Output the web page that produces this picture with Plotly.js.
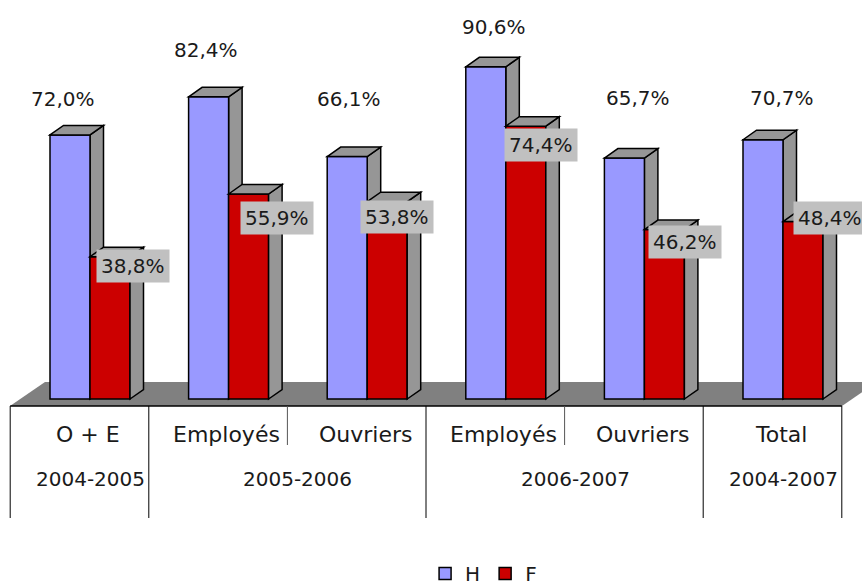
<!DOCTYPE html>
<html>
<head>
<meta charset="utf-8">
<script src="https://cdn.plot.ly/plotly-3.0.1.min.js"></script>
<style>html,body{margin:0;padding:0;background:#fff}#chart{width:862px;height:587px}</style>
</head>
<body>
<div id="chart"></div>
<script>
// ---- data ----
const categories = ["O + E", "Employés", "Ouvriers", "Employés", "Ouvriers", "Total"];
const yearLabels = ["2004-2005", "2005-2006", "2006-2007", "2004-2007"];
const yearGroups = [[0], [1, 2], [3, 4], [5]];
const seriesNames = ["H", "F"];
const valuesH = [72.0, 82.4, 66.1, 90.6, 65.7, 70.7];
const valuesF = [38.8, 55.9, 53.8, 74.4, 46.2, 48.4];

// ---- layout geometry (pixels) ----
const W = 862, H = 587;
const x0px = 90, stepPx = 138.6;      // category centre of first group, spacing
const y0px = 399, pxPerUnit = 3.667;  // baseline pixel, pixels per percent
const xmin = -x0px / stepPx, xmax = (W - x0px) / stepPx;
const ymin = -(H - y0px) / pxPerUnit, ymax = y0px / pxPerUnit;
const toX = px => xmin + px / stepPx;
const toY = py => (y0px - py) / pxPerUnit;
const barW = 40 / stepPx;
const dX = 13.5 / stepPx, dY = 9.5 / pxPerUnit;   // 3D depth of bars
const idx = categories.map((_, i) => i);

const FONT = "DejaVu Sans";
const TXT = "#1a1a1a";
const colH = "#9999FF", colF = "#CC0000", sideCol = "#969696", floorCol = "#808080";

// label nudges (pixels)
const hLabelDx = [-7, -3, 2, 8, 14, 19];
const hLabelLift = [36, 47, 58, 40, 60, 42];
const fLabelDx = [23, 28, 10, 15, 21, 27];
const fLabelDy = [9, 24, 15, 19, 12, -4];

const fmt = v => v.toFixed(1).replace('.', ',') + '%';

const traces = [
  { type: 'bar', name: seriesNames[0], x: idx, y: valuesH, width: barW, offset: -barW,
    marker: { color: colH, line: { color: '#000', width: 1.5 } }, hoverinfo: 'skip' },
  { type: 'bar', name: seriesNames[1], x: idx, y: valuesF, width: barW, offset: 0,
    marker: { color: colF, line: { color: '#000', width: 1.5 } }, hoverinfo: 'skip' }
];

const poly = pts => 'M' + pts.map(p => p[0] + ',' + p[1]).join('L') + 'Z';
const shapes = [];
// floor
const fdx = 35, fdy = 24;
shapes.push({ type: 'path', layer: 'below', xref: 'x', yref: 'y',
  path: poly([[toX(10), toY(406)], [toX(842), toY(406)], [toX(842 + fdx), toY(406 - fdy)], [toX(10 + fdx), toY(406 - fdy)]]),
  fillcolor: floorCol, line: { width: 0 } });

function box3d(left, val, layerSide, layerTop) {
  const right = left + barW;
  shapes.push({ type: 'path', layer: layerSide, xref: 'x', yref: 'y',
    path: poly([[right, 0], [right + dX, dY], [right + dX, val + dY], [right, val]]),
    fillcolor: sideCol, line: { color: '#000', width: 1.5 } });
  shapes.push({ type: 'path', layer: layerTop, xref: 'x', yref: 'y',
    path: poly([[left, val], [left + dX, val + dY], [right + dX, val + dY], [right, val]]),
    fillcolor: sideCol, line: { color: '#000', width: 1.5 } });
}
idx.forEach(i => box3d(i - barW, valuesH[i], 'below', 'above'));
idx.forEach(i => box3d(i, valuesF[i], 'above', 'above'));

// table lines
const tableShift = -10.5 / stepPx;
const yTop = toY(406), yBot = toY(518), yShort = toY(445);
shapes.push({ type: 'line', xref: 'x', yref: 'y', x0: -0.5 + tableShift, x1: categories.length - 0.5 + tableShift,
  y0: yTop, y1: yTop, line: { color: '#000', width: 1.5 }, layer: 'above' });
shapes.push({ type: 'line', xref: 'x', yref: 'y', x0: -0.5 + tableShift, x1: -0.5 + tableShift,
  y0: yTop, y1: yBot, line: { color: '#000', width: 1 }, layer: 'above' });
yearGroups.forEach(g => {
  const last = g[g.length - 1];
  shapes.push({ type: 'line', xref: 'x', yref: 'y', x0: last + 0.5 + tableShift, x1: last + 0.5 + tableShift,
    y0: yTop, y1: yBot, line: { color: '#000', width: 1 }, layer: 'above' });
  for (let k = 0; k < g.length - 1; k++) {
    shapes.push({ type: 'line', xref: 'x', yref: 'y', x0: g[k] + 0.5 + tableShift, x1: g[k] + 0.5 + tableShift,
      y0: yTop, y1: yShort, line: { color: '#555', width: 1 }, layer: 'above' });
  }
});

const annotations = [];
idx.forEach(i => {
  annotations.push({ xref: 'x', yref: 'y', x: i - barW / 2, y: valuesH[i], xshift: hLabelDx[i], yshift: hLabelLift[i],
    text: fmt(valuesH[i]), showarrow: false, font: { family: FONT, size: 20, color: TXT } });
  annotations.push({ xref: 'x', yref: 'y', x: i + barW / 2, y: valuesF[i], xshift: fLabelDx[i], yshift: -fLabelDy[i],
    text: fmt(valuesF[i]), showarrow: false, bgcolor: '#C0C0C0', borderpad: 4,
    font: { family: FONT, size: 20, color: TXT } });
  annotations.push({ xref: 'x', yref: 'y', x: i, xshift: -2, y: toY(434),
    text: categories[i], showarrow: false, font: { family: FONT, size: 22, color: TXT } });
});
yearGroups.forEach((g, k) => {
  const cx = g.reduce((a, b) => a + b, 0) / g.length;
  annotations.push({ xref: 'x', yref: 'y', x: cx, y: toY(479),
    text: yearLabels[k], showarrow: false, font: { family: FONT, size: 20, color: TXT } });
});

const layout = {
  width: W, height: H,
  margin: { l: 0, r: 0, t: 0, b: 0, pad: 0, autoexpand: false },
  paper_bgcolor: '#fff', plot_bgcolor: 'rgba(0,0,0,0)',
  barmode: 'overlay',
  xaxis: { range: [xmin, xmax], visible: false, fixedrange: true },
  yaxis: { range: [ymin, ymax], visible: false, fixedrange: true },
  showlegend: true,
  legend: { orientation: 'h', x: 0.561, xanchor: 'center', y: -6 / H, yanchor: 'bottom',
    font: { family: FONT, size: 20, color: TXT }, bgcolor: 'rgba(0,0,0,0)', itemwidth: 30 },
  shapes: shapes,
  annotations: annotations
};

Plotly.newPlot('chart', traces, layout, { staticPlot: true, displayModeBar: false });
</script>
</body>
</html>
